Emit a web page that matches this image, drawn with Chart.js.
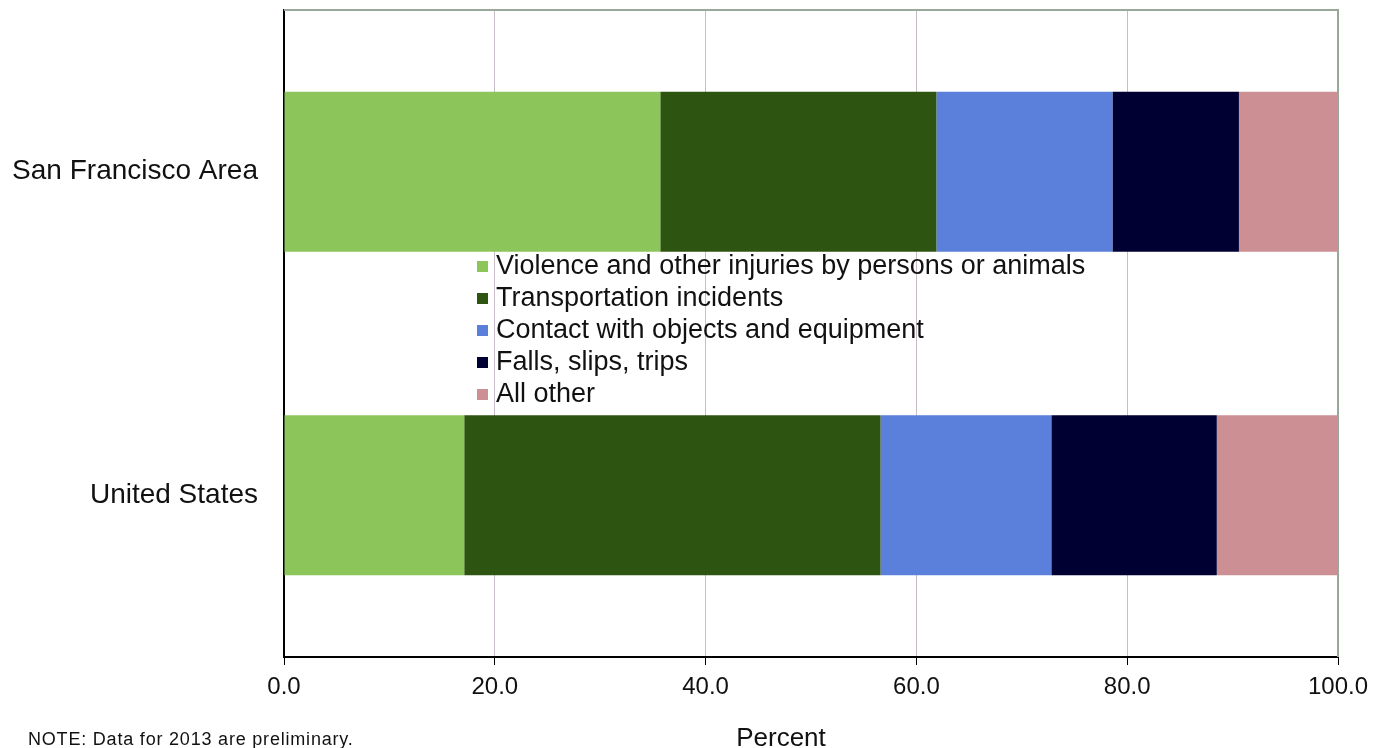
<!DOCTYPE html>
<html>
<head>
<meta charset="utf-8">
<script src="https://cdn.jsdelivr.net/npm/chart.js@4"></script>
<style>
  html, body { margin: 0; padding: 0; background: #fff; }
  #wrap { position: relative; width: 1385px; height: 748px; overflow: hidden; }
  #legend { position: absolute; left: 477px; top: 249px; font: 27px "Liberation Sans", Arial, sans-serif; color: #111; }
  #legend div { height: 32px; line-height: 32px; white-space: nowrap; }
  #legend span { display: inline-block; width: 11px; height: 11px; margin-right: 8px; vertical-align: 2px; }
  #note { position: absolute; left: 28px; top: 729px; font: 18px "Liberation Sans", Arial, sans-serif; letter-spacing: 0.8px; color: #111; }
  #xtitle { position: absolute; left: 681px; width: 200px; text-align: center; top: 722px; font: 26px "Liberation Sans", Arial, sans-serif; color: #111; }
</style>
</head>
<body>
<div id="wrap">
  <canvas id="myChart" width="1385" height="748"></canvas>
  <div id="legend"></div>
  <div id="note">NOTE: Data for 2013 are preliminary.</div>
  <div id="xtitle">Percent</div>
</div>
<script>
var areas = ["San Francisco Area", "United States"];
var seriesNames = [
    "Violence and other injuries by persons or animals",
    "Transportation incidents",
    "Contact with objects and equipment",
    "Falls, slips, trips",
    "All other"
];
var violence = [35.7, 17.1];
var transport = [26.2, 39.5];
var contact = [16.7, 16.2];
var falls = [12.0, 15.7];
var allOther = [9.4, 11.5];
var seriesColors = ["#8cc65a", "#2e5412", "#5a80dc", "#000033", "#cc8f93"];
var xTicks = [0, 20, 40, 60, 80, 100];

var seriesValues = [violence, transport, contact, falls, allOther];

window.addEventListener('load', function() {
    drawChart();
});

function drawChart(){
    var datasets = seriesNames.map(function(name, i) {
        return {
            label: name,
            data: seriesValues[i],
            backgroundColor: seriesColors[i],
            borderWidth: 0,
            categoryPercentage: 1.0,
            barPercentage: 0.495
        };
    });

    var legend = document.getElementById("legend");
    seriesNames.forEach(function(name, i) {
        var row = document.createElement("div");
        row.innerHTML = '<span style="background:' + seriesColors[i] + '"></span>' + name;
        legend.appendChild(row);
    });

    var font = '"Liberation Sans", Arial, sans-serif';

    new Chart(document.getElementById("myChart"), {
        type: 'bar',
        data: {
            labels: areas,
            datasets: datasets
        },
        options: {
            indexAxis: 'y',
            responsive: false,
            animation: false,
            layout: { padding: { top: 10, right: 47, left: 0, bottom: 0 } },
            plugins: {
                legend: { display: false },
                tooltip: { enabled: false }
            },
            scales: {
                x: {
                    stacked: true,
                    min: 0,
                    max: 100,
                    afterBuildTicks: function(axis) {
                        axis.ticks = xTicks.map(function(v) { return { value: v }; });
                    },
                    afterFit: function(axis) { axis.height = 91; },
                    ticks: {
                        color: '#111',
                        font: { family: font, size: 24 },
                        padding: 8,
                        maxRotation: 0,
                        callback: function(v) { return v.toFixed(1); }
                    },
                    grid: {
                        color: '#c8bcc8',
                        lineWidth: 1,
                        drawTicks: true,
                        tickLength: 8,
                        tickColor: '#000'
                    },
                    border: { color: '#000', width: 2 }
                },
                y: {
                    stacked: true,
                    afterFit: function(axis) {
                        axis.width = 284;
                        axis.paddingTop = 0;
                        axis.paddingBottom = 0;
                    },
                    ticks: {
                        color: '#111',
                        font: { family: font, size: 28 },
                        padding: 26
                    },
                    grid: { display: false, drawTicks: false },
                    border: { color: '#000', width: 2 }
                }
            }
        },
        plugins: [{
            id: 'frame',
            afterDraw: function(chart) {
                var a = chart.chartArea, ctx = chart.ctx;
                ctx.save();
                ctx.strokeStyle = '#9aa89a';
                ctx.lineWidth = 2;
                ctx.beginPath();
                ctx.moveTo(a.left, a.top);
                ctx.lineTo(a.right, a.top);
                ctx.lineTo(a.right, a.bottom);
                ctx.stroke();
                ctx.restore();
            }
        }]
    });
}
</script>
</body>
</html>
